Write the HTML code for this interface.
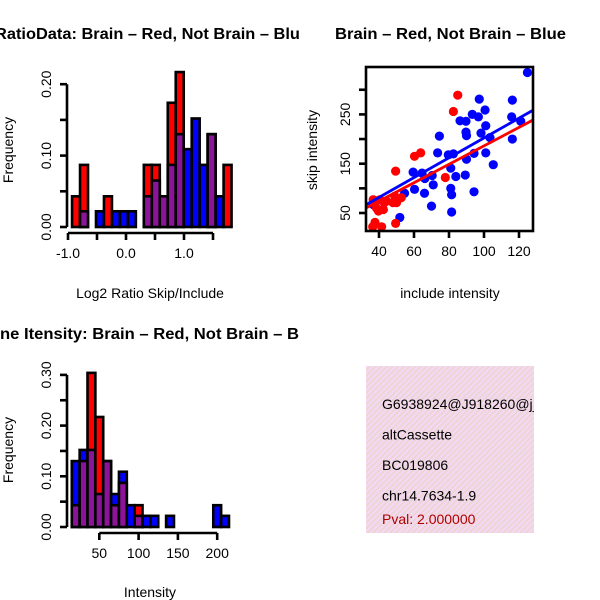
<!DOCTYPE html>
<html><head><meta charset="utf-8"><style>
body{margin:0;background:#fff;}
svg{display:block;font-family:"Liberation Sans",Arial,sans-serif;}
</style></head><body>
<svg id="chart" width="600" height="600" viewBox="0 0 600 600" xmlns="http://www.w3.org/2000/svg">
<defs>
<clipPath id="clipL"><rect x="0" y="0" width="300" height="600"/></clipPath>
<clipPath id="clipBox"><rect x="366" y="366" width="168" height="167"/></clipPath>
<clipPath id="clipSc"><rect x="366" y="67" width="167" height="164"/></clipPath>
<pattern id="hatch" width="4" height="4" patternUnits="userSpaceOnUse" patternTransform="rotate(45)">
<rect width="4" height="4" fill="#f6d6f2"/><rect width="1.3" height="4" fill="#e4d8c8"/>
</pattern>
</defs>
<g id="p1" clip-path="url(#clipL)"></g>
<g id="p2"></g>
<g id="p3" clip-path="url(#clipL)"></g>
<g id="p4"></g>
</svg>
<script>
// ---- Ratio histogram data ----
const ratioBinStart = -0.93;
const ratioBinWidth = 0.1375;
const ratioRed  = [0.043,0.087,0,0,0.043,0,0,0,0,0.087,0.087,0.043,0.174,0.217,0,0,0,0.13,0,0.087];
const ratioBlue = [0,0.022,0,0.022,0,0.022,0.022,0.022,0,0.043,0.065,0.043,0.087,0.13,0.109,0.152,0.087,0.13,0.043,0];
const ratioXTicks = [-1.0,-0.5,0.0,0.5,1.0,1.5];
const ratioXLabels = ["-1.0","","0.0","","1.0",""];
const ratioYTicks = [0,0.05,0.10,0.15,0.20];
const ratioYLabels = ["0.00","","0.10","","0.20"];
// ---- Intensity histogram data ----
const intBinStart = 15;
const intBinWidth = 10;
const intRed  = [0.043,0.13,0.304,0.217,0.13,0.043,0.087,0,0.043,0,0,0,0,0,0,0,0,0,0,0];
const intBlue = [0.13,0.152,0.152,0.065,0.13,0.065,0.109,0.043,0.022,0.022,0.022,0,0.022,0,0,0,0,0,0.043,0.022];
const intXTicks = [50,100,150,200];
const intYTicks = [0,0.05,0.10,0.15,0.20,0.25,0.30];
const intYLabels = ["0.00","","0.10","","0.20","","0.30"];
// ---- Scatter data ----
const blueX = [124.8,116.2,97.3,100.6,93.3,96.8,86.3,89.7,101,98.3,89.7,90,103.4,115.8,121,116.2,74.5,73.5,79.6,82.5,101,94.3,90,105.3,81,83.9,89.3,66.2,70.4,59.5,64.6,71,60.3,66,54.6,81,81.5,94.3,70,81.5,51.9,36.7];
const blueY = [335,279,281,259,250,245,237,236,227,212,214,207,203,245,236,200,206,172,168,170,172,171,159,148,141,124,127,120,126,133,131,107,98,90,90,100,87,93,64,52,41,67];
const redX = [85,82.5,60.3,63.8,49.5,77.9,36.7,40.5,44.3,49,50,48,43,38.6,42.5,39.7,36.4,37.7,41.5,49.5,52.7];
const redY = [289,256,165,172,135,122,77,77,74,84,71,71,71,60,57,54,22,31,22,29,81];
const blueFit = [1.2, 2.01];   // intercept, slope
const redFit = [-0.8, 1.87];
const scXTicks = [40,60,80,100,120];
const scYTicks = [50,100,150,200,250,300];
const scYLabels = ["50","","150","","250",""];
const infoLines = ["G6938924@J918260@j_","altCassette","BC019806","chr14.7634-1.9"];
const pvalText = "Pval: 2.000000";

const NS="http://www.w3.org/2000/svg";
function mk(parent,tag,attrs,text){const e=document.createElementNS(NS,tag);for(const k in attrs)e.setAttribute(k,attrs[k]);if(text!==undefined)e.textContent=text;parent.appendChild(e);return e;}
const RED="#ff0000",BLUE="#0000ff",PURP="#8c1498";
const FS=14;

function hist(g,opt){
  const sx=v=>opt.x0+(v-opt.v0)*opt.kx, sy=v=>opt.y0-v*opt.ky;
  const n=opt.red.length;
  for(let i=0;i<n;i++){
    const a=opt.binStart+i*opt.binWidth,b=a+opt.binWidth;
    const x=sx(a),w=sx(b)-sx(a);
    const r=opt.red[i],bl=opt.blue[i],hi=Math.max(r,bl),lo=Math.min(r,bl);
    if(hi<=0)continue;
    const top=r>=bl?RED:BLUE;
    let el=mk(g,'rect',{x:x,y:sy(hi),width:w,height:sy(0)-sy(hi),fill:top,stroke:'#000','stroke-width':2.6});
    
    
    if(lo>0){
      el=mk(g,'rect',{x:x,y:sy(lo),width:w,height:sy(0)-sy(lo),fill:PURP,stroke:'#000','stroke-width':2.6});
      
      
    }
  }
  const yt=opt.yTicks;
  let ax=mk(g,'line',{x1:opt.yAxisX,x2:opt.yAxisX,y1:sy(yt[0]),y2:sy(yt[yt.length-1]),stroke:'#000','stroke-width':2.6});
  
  
  yt.forEach((t,i)=>{
    mk(g,'line',{x1:opt.yAxisX-7,x2:opt.yAxisX,y1:sy(t),y2:sy(t),stroke:'#000','stroke-width':2.6});
    if(opt.yLabels[i]){const tx=mk(g,'text',{x:opt.yAxisX-16,y:sy(t),'font-size':FS,'text-anchor':'middle',transform:`rotate(-90 ${opt.yAxisX-16} ${sy(t)})`},opt.yLabels[i]);
      
      }
  });
  const xt=opt.xTicks,ay=opt.xAxisY;
  ax=mk(g,'line',{x1:sx(xt[0]),x2:sx(xt[xt.length-1]),y1:ay,y2:ay,stroke:'#000','stroke-width':2.6});
  
  
  xt.forEach((t,i)=>{
    mk(g,'line',{x1:sx(t),x2:sx(t),y1:ay,y2:ay+7,stroke:'#000','stroke-width':2.6});
    if(opt.xLabels[i]){const tx=mk(g,'text',{x:sx(t),y:ay+25,'font-size':FS,'text-anchor':'middle'},opt.xLabels[i]);
      
      }
  });
}

const p1=document.getElementById('p1');
hist(p1,{name:'ratio',x0:68,v0:-1,kx:58,y0:227,ky:714,binStart:ratioBinStart,binWidth:ratioBinWidth,red:ratioRed,blue:ratioBlue,
  yAxisX:67,yTicks:ratioYTicks,yLabels:ratioYLabels,xTicks:ratioXTicks,xLabels:ratioXLabels,xAxisY:233});
let t=mk(p1,'text',{x:-5,y:39,'font-size':16,'font-weight':'bold',textLength:314,lengthAdjust:'spacingAndGlyphs'},"RatioData: Brain – Red, Not Brain – Blue");

t=mk(p1,'text',{x:150,y:298,'font-size':FS,'text-anchor':'middle'},"Log2 Ratio Skip/Include");

t=mk(p1,'text',{x:13,y:150,'font-size':FS,'text-anchor':'middle',transform:'rotate(-90 13 150)'},"Frequency");


const p3=document.getElementById('p3');
hist(p3,{name:'intensity',x0:60,v0:0,kx:0.786,y0:527,ky:507,binStart:intBinStart,binWidth:intBinWidth,red:intRed,blue:intBlue,
  yAxisX:67,yTicks:intYTicks,yLabels:intYLabels,xTicks:intXTicks,xLabels:intXTicks.map(String),xAxisY:533});
t=mk(p3,'text',{x:0,y:339,'font-size':16,'font-weight':'bold',textLength:323,lengthAdjust:'spacingAndGlyphs'},"ne Itensity: Brain – Red, Not Brain – Blue");

t=mk(p3,'text',{x:150,y:597,'font-size':FS,'text-anchor':'middle'},"Intensity");

t=mk(p3,'text',{x:13,y:450,'font-size':FS,'text-anchor':'middle',transform:'rotate(-90 13 450)'},"Frequency");


// scatter
const p2=document.getElementById('p2');
const L=366,R=533,T=67,B=231;
const sx=v=>379+(v-40)*1.75, sy=v=>213-(v-50)*0.493;
const pts=mk(p2,'g',{'clip-path':'url(#clipSc)'});
blueX.forEach((x,i)=>{const c=mk(pts,'circle',{cx:sx(x),cy:sy(blueY[i]),r:4.6,fill:BLUE});
  });
redX.forEach((x,i)=>{const c=mk(pts,'circle',{cx:sx(x),cy:sy(redY[i]),r:4.6,fill:RED});
  });
const xa=(L-379)/1.75+40,xb=(R-379)/1.75+40;
let ln=mk(pts,'line',{x1:sx(xa),y1:sy(blueFit[0]+blueFit[1]*xa),x2:sx(xb),y2:sy(blueFit[0]+blueFit[1]*xb),stroke:BLUE,'stroke-width':2.8});

ln=mk(pts,'line',{x1:sx(xa),y1:sy(redFit[0]+redFit[1]*xa),x2:sx(xb),y2:sy(redFit[0]+redFit[1]*xb),stroke:RED,'stroke-width':2.8});

let bx=mk(p2,'rect',{x:L,y:T,width:R-L,height:B-T,fill:'none',stroke:'#000','stroke-width':2.6});

scXTicks.forEach(v=>{mk(p2,'line',{x1:sx(v),x2:sx(v),y1:B,y2:B+7,stroke:'#000','stroke-width':2.6});
  const tx=mk(p2,'text',{x:sx(v),y:B+25,'font-size':FS,'text-anchor':'middle'},String(v));
  });
scYTicks.forEach((v,i)=>{mk(p2,'line',{x1:L-7,x2:L,y1:sy(v),y2:sy(v),stroke:'#000','stroke-width':2.6});
  if(scYLabels[i]){const tx=mk(p2,'text',{x:L-16,y:sy(v),'font-size':FS,'text-anchor':'middle',transform:`rotate(-90 ${L-16} ${sy(v)})`},scYLabels[i]);
  }});
t=mk(p2,'text',{x:335,y:39,'font-size':16,'font-weight':'bold',textLength:231,lengthAdjust:'spacingAndGlyphs'},"Brain – Red, Not Brain – Blue");

t=mk(p2,'text',{x:450,y:298,'font-size':FS,'text-anchor':'middle'},"include intensity");

t=mk(p2,'text',{x:317,y:150,'font-size':FS,'text-anchor':'middle',transform:'rotate(-90 317 150)'},"skip intensity");


// info box
const p4=document.getElementById('p4');
bx=mk(p4,'rect',{x:366,y:366,width:168,height:167,fill:'url(#hatch)'});

const ig=mk(p4,'g',{'clip-path':'url(#clipBox)'});
infoLines.forEach((s,i)=>{const tx=mk(ig,'text',{x:382,y:409+i*30.5,'font-size':FS,fill:'#000'},s);
  });
t=mk(ig,'text',{x:382,y:524,'font-size':FS,fill:'#b00000'},pvalText);

</script>
</body></html>
